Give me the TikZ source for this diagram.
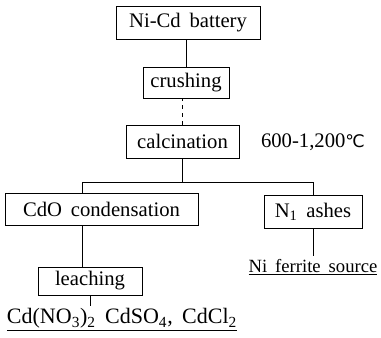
\documentclass[tikz,border=0pt]{standalone}
\usepackage{fontspec}
\usepackage{tikz}
\setmainfont[WordSpace=1.7]{Liberation Serif}
\newfontfamily\degfont{DejaVu Sans}

\begin{document}
\begin{tikzpicture}[x=0.75pt, y=-0.75pt,
    box/.style={draw, thin, inner sep=1pt, font=\fontsize{15.5}{18}\selectfont},
    label/.style={inner sep=2pt, font=\fontsize{15.5}{18}\selectfont}]
    % Fix the page to the reference size
    \useasboundingbox (0,0) rectangle (381,337);
    % Process boxes down the middle
    \node[box, minimum width=108pt, minimum height=24.75pt] (battery) at (188,22.5) {Ni-Cd battery};
    \node[box, minimum width=64.5pt, minimum height=23.25pt] (crushing) at (186,82.5) {crushing};
    \node[box, minimum width=84.75pt, minimum height=24.75pt] (calcination) at (182.5,141.5) {calcination};
    \node[label] (temp) at (313,142) {600-1,200{\degfont\fontsize{13}{15}\selectfont ℃}};
    % Two branches after calcination
    \node[box, minimum width=144.75pt, minimum height=24pt] (condensation) at (101.5,209) {CdO condensation};
    \node[box, minimum width=73.5pt, minimum height=24.75pt] (ashes) at (313,211.5) {N\textsubscript{1} ashes};
    \node[box, minimum width=78pt, minimum height=21pt] (leaching) at (90,281) {leaching};
    % Products at the ends
    \node[label, font=\fontsize{14}{17}\selectfont] (ferrite) at (313,267) {\underline{Ni ferrite source}};
    \node[label, font=\fontsize{16.5}{19}\selectfont] (products) at (122,320) {\underline{Cd(NO\textsubscript{3})\textsubscript{2} CdSO\textsubscript{4}, CdCl\textsubscript{2}}};
    % Junction points of the split
    \coordinate (left) at (82,182);
    \coordinate (right) at (313,182);
    % Connectors
    \draw (crushing.north) -- (crushing.north |- battery.south);
    \draw[dashed] (calcination.north) -- (calcination.north |- crushing.south);
    \draw (calcination.south) -- (calcination.south |- left);
    \draw (left |- condensation.north) -- (left) -- (right) -- (ashes.north);
    \draw (left |- condensation.south) -- (left |- leaching.north);
    \draw (leaching.south) -- (leaching.south |- products.north);
    \draw (ashes.south) -- (ashes.south |- ferrite.north);
\end{tikzpicture}
\end{document}
